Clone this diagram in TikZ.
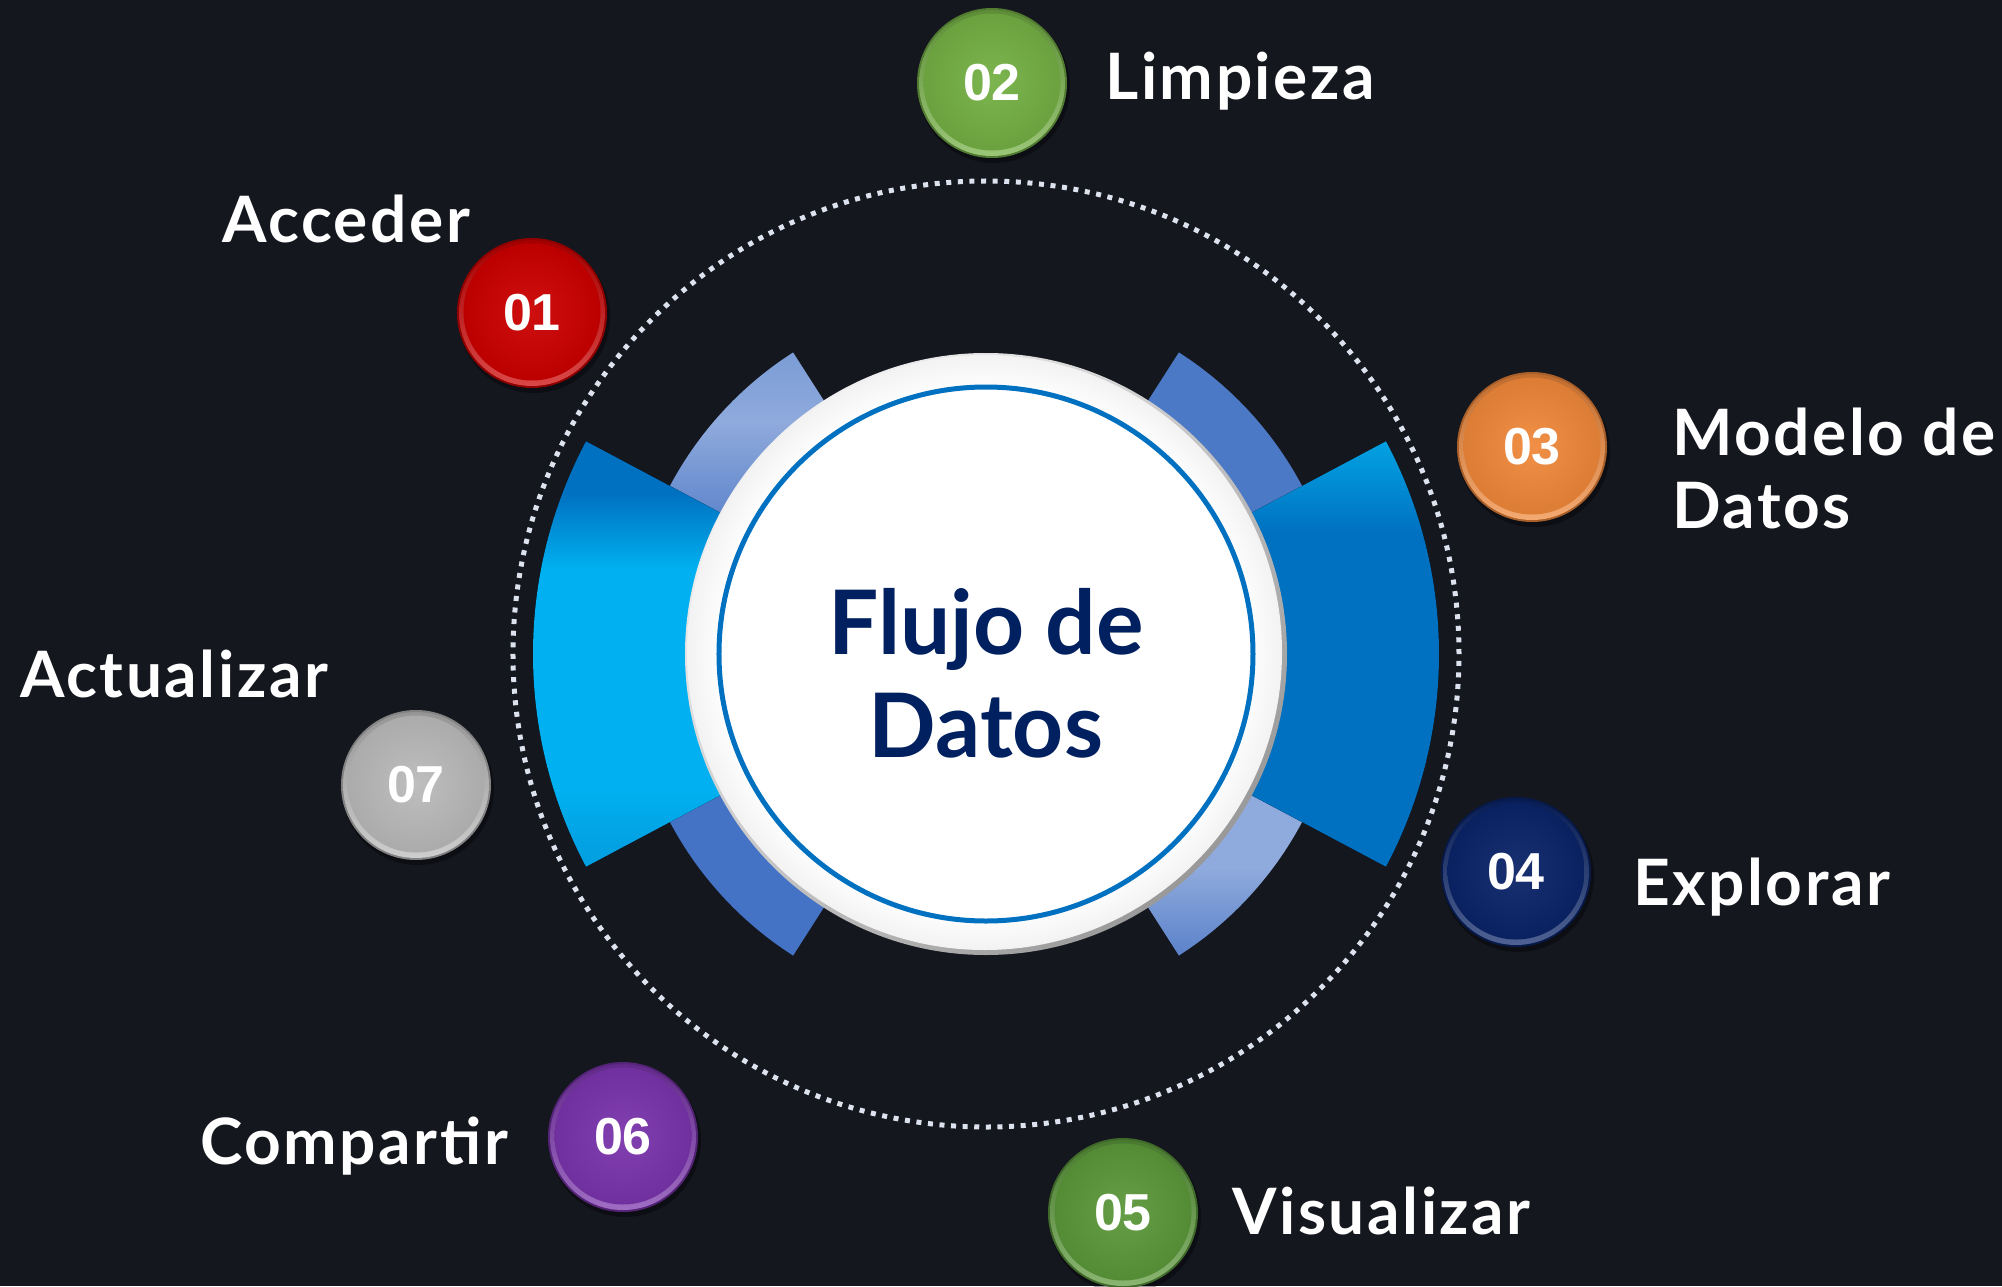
\documentclass[tikz,border=0pt]{standalone}
\usepackage{fontspec}
\newfontfamily\labfont{Lato}[LetterSpace=4]
\newfontfamily\hubfont{Lato}
\newfontfamily\numfont{Liberation Sans}
\definecolor{bg}{HTML}{15171F}
\definecolor{dotcol}{HTML}{DDE3EE}
\definecolor{blueA}{HTML}{0070C0}
\definecolor{cyanA}{HTML}{00B0F0}
\definecolor{cyanD}{HTML}{03A0E2}
\definecolor{cyanT}{HTML}{02A2E2}
\definecolor{lightA}{HTML}{8FAADC}
\definecolor{lightB}{HTML}{7B9CD6}
\definecolor{lightC}{HTML}{5B82CA}
\definecolor{midA}{HTML}{4472C4}
\definecolor{midB}{HTML}{4C79C6}
\definecolor{navy}{HTML}{002060}
\definecolor{ringblue}{HTML}{0070C0}
\definecolor{cRed}{HTML}{CC0000}
\definecolor{cGreenL}{HTML}{74B044}
\definecolor{cOrange}{HTML}{F0883A}
\definecolor{cNavy}{HTML}{0A2468}
\definecolor{cGreenD}{HTML}{5B983A}
\definecolor{cPurple}{HTML}{7A34AC}
\definecolor{cGrey}{HTML}{BBBABA}
\pgfdeclareverticalshading{bigL}{100bp}{color(0bp)=(cyanD); color(27bp)=(cyanD); color(34bp)=(cyanA); color(60bp)=(cyanA); color(69bp)=(blueA); color(100bp)=(blueA)}
\pgfdeclareverticalshading{bigR}{100bp}{color(0bp)=(blueA); color(64bp)=(blueA); color(75bp)=(cyanT); color(100bp)=(cyanT)}
\pgfdeclareverticalshading{lightUL}{100bp}{color(0bp)=(lightC); color(25bp)=(lightC); color(55bp)=(lightA); color(75bp)=(lightB); color(100bp)=(lightB)}
\pgfdeclareverticalshading{lightLR}{100bp}{color(0bp)=(lightC); color(25bp)=(lightC); color(50bp)=(lightA); color(75bp)=(lightA); color(100bp)=(lightA)}
\pgfdeclareradialshading{discshade}{\pgfpoint{0bp}{0bp}}{color(0bp)=(white); color(22bp)=(white); color(25bp)=(gray!10); color(50bp)=(gray!10)}
\tikzset{
  numtext/.style={text=white, font=\numfont\bfseries\fontsize{52}{55}\selectfont, inner sep=0pt},
  labtext/.style={text=white, font=\labfont\bfseries\fontsize{64}{73}\selectfont, inner sep=0pt},
  hubtext/.style={text=navy, font=\hubfont\bfseries\fontsize{89}{103}\selectfont, inner sep=0pt, align=center},
}
\newcommand\myball[4]{%
  \begin{scope}[shift={#2}]
    \fill[black, opacity=0.35] (2,-4) circle (76);
    \fill[#3!70!black] (0,0) circle (75);
    \shade[top color=#3!80!black, bottom color=#3!72!white] (0,0) circle (73);
    \shade[inner color=#3!94!white, outer color=#3!92!black] (0,1) circle (68.5);
  \end{scope}
  \node[numtext] (#1) at #2 {#4};
}
\begin{document}
\begin{tikzpicture}[x=1pt, y=1pt]
\fill[bg] (-986,-632) rectangle (1016,654);
\useasboundingbox (-986,-632) rectangle (1016,654);
% light arcs
\fill[shading=lightUL] (122.6:358) arc[start angle=122.6, end angle=153, radius=358] -- (153:280) arc[start angle=153, end angle=122.6, radius=280] -- cycle;
\fill[midA] (207:358) arc[start angle=207, end angle=237.4, radius=358] -- (237.4:280) arc[start angle=237.4, end angle=207, radius=280] -- cycle;
\fill[midB] (27:358) arc[start angle=27, end angle=57.4, radius=358] -- (57.4:280) arc[start angle=57.4, end angle=27, radius=280] -- cycle;
\fill[shading=lightLR] (-57.4:358) arc[start angle=-57.4, end angle=-27, radius=358] -- (-27:280) arc[start angle=-27, end angle=-57.4, radius=280] -- cycle;
% big arcs
\fill[shading=bigL] (152:453) arc[start angle=152, end angle=208, radius=453] -- (208:280) arc[start angle=208, end angle=152, radius=280] -- cycle;
\fill[shading=bigR] (-28:453) arc[start angle=-28, end angle=28, radius=453] -- (28:280) arc[start angle=28, end angle=-28, radius=280] -- cycle;
% hub disc
\shade[top color=gray!12, bottom color=gray!80, shading angle=45] (0,0) circle (301);
\shade[shading=discshade] (-1.5,1.5) circle (297.5);
\draw[ringblue, line width=5pt] (0,0) circle (267);
\node[hubtext, anchor=base] (hub) at (0,-103) {Flujo de\\Datos};
% dotted circle
\draw[dotcol, line width=5pt, dash pattern=on 5pt off 6.61pt] (0,0) circle (473);
% balls
\myball{b1}{(-454,341)}{cRed}{01}
\myball{b2}{(6,571)}{cGreenL}{02}
\myball{b3}{(546,207)}{cOrange}{03}
\myball{b4}{(530,-218)}{cNavy}{04}
\myball{b5}{(137,-559)}{cGreenD}{05}
\myball{b6}{(-363,-483)}{cPurple}{06}
\myball{b7}{(-570,-131)}{cGrey}{07}
% labels
\node[labtext, anchor=base west] (l1) at (-764,411) {Acceder};
\node[labtext, anchor=base west] (l2) at (119,554) {Limpieza};
\node[labtext, anchor=base west, align=left] (l3) at (686,126) {Modelo de\\Datos};
\node[labtext, anchor=base west] (l4) at (647,-251) {Explorar};
\node[labtext, anchor=base west] (l5) at (246,-580) {Visualizar};
\node[labtext, anchor=base east] (l6) at (-478,-510) {Compartir};
\node[labtext, anchor=base west] (l7) at (-966,-43) {Actualizar};
\end{tikzpicture}
\end{document}
